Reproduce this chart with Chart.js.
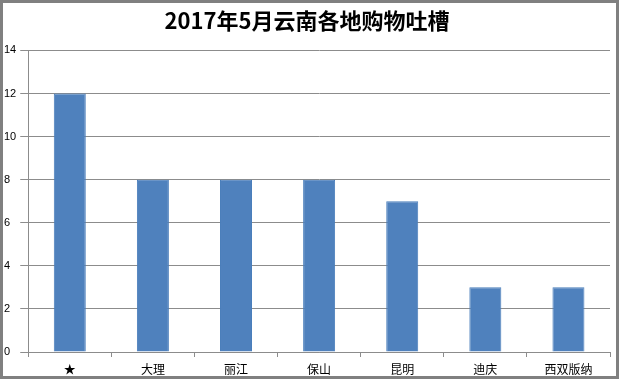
<!DOCTYPE html>
<html><head><meta charset="utf-8">
<script src="https://cdn.jsdelivr.net/npm/chart.js@4/dist/chart.umd.min.js"></script>
<style>html,body{margin:0;padding:0;background:#fff}#w{width:619px;height:379px}</style>
</head><body><div id="w"><canvas id="c" width="619" height="379"></canvas></div>
<script>
const categories = ['★','大理','丽江','保山','昆明','迪庆','西双版纳'];
const values = [12, 8, 8, 8, 7, 3, 3];
const titleText = '2017年5月云南各地购物吐槽';
const yMax = 14, yStep = 2;

const frame = {
  id: 'frame',
  beforeDraw(chart) {
    const ctx = chart.ctx;
    ctx.save();
    ctx.fillStyle = '#fff';
    ctx.fillRect(0, 0, chart.width, chart.height);
    ctx.restore();
  },
  afterDraw(chart) {
    const ctx = chart.ctx;
    ctx.save();
    ctx.strokeStyle = '#808080';
    ctx.lineWidth = 3;
    ctx.strokeRect(1.5, 1.5, chart.width - 3, chart.height - 3);
    ctx.restore();
  }
};

new Chart(document.getElementById('c'), {
  type: 'bar',
  data: { labels: categories, datasets: [{ data: values, backgroundColor: '#4F81BD', borderColor: '#4A7EBB', borderWidth: 1, categoryPercentage: 1, barPercentage: 0.385 }] },
  options: {
    responsive: false, animation: false, devicePixelRatio: 1,
    layout: { padding: { top: 5, left: 4, right: 9, bottom: 3 } },
    plugins: {
      legend: { display: false }, tooltip: { enabled: false },
      title: { display: true, text: titleText, color: '#000', font: { family: '"Noto Sans CJK SC", "Liberation Sans"', size: 22, weight: 'bold' }, padding: { top: 2, bottom: 17 } }
    },
    scales: {
      x: {
        afterFit(scale) { scale.height = 24; },
        grid: { display: true, drawOnChartArea: false, drawTicks: true, tickLength: 5, color: '#8c8c8c', offset: true },
        border: { color: '#8c8c8c', width: 1 },
        ticks: { color: '#000', font: { family: '"Noto Sans CJK SC", sans-serif', size: 12 }, padding: 5, maxRotation: 0 }
      },
      y: {
        min: 0, max: yMax,
        grid: { color: '#8c8c8c', tickLength: 8, drawTicks: true },
        border: { color: '#8c8c8c', width: 1 },
        ticks: { stepSize: yStep, color: '#000', crossAlign: 'far', padding: 2, font: { family: '"Liberation Sans", sans-serif', size: 11 } }
      }
    }
  },
  plugins: [frame]
});
</script></body></html>
